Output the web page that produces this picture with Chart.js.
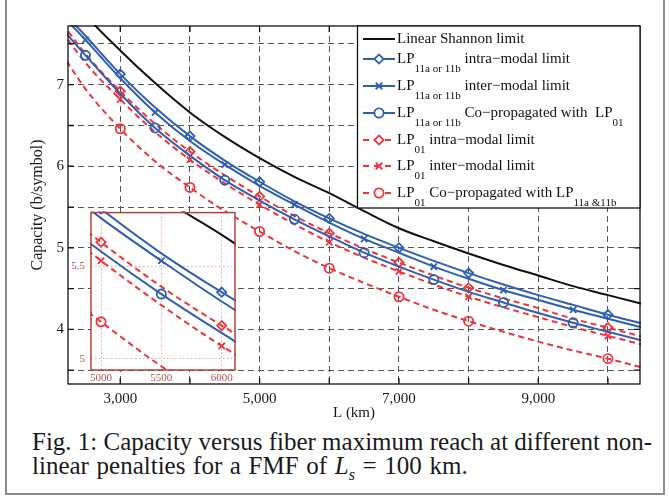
<!DOCTYPE html>
<html>
<head>
<meta charset="utf-8">
<script src="https://cdn.jsdelivr.net/npm/chart.js@4.4.1/dist/chart.umd.min.js"></script>
<style>
  html, body { margin: 0; padding: 0; background: #fff; }
  body { width: 669px; height: 497px; position: relative; overflow: hidden; }
  #frame { position: absolute; left: 5px; top: -4px; width: 660px; height: 499px; border: 2px solid #8c8c8c; box-sizing: border-box; }
  #mainWrap { position: absolute; left: 0; top: 0; width: 669px; height: 425px; }
  #insetWrap { position: absolute; left: 60px; top: 200px; width: 190px; height: 190px; }
  #caption { position: absolute; left: 32px; top: 430px; width: 620px; font-family: 'Liberation Serif', 'Times New Roman', serif; font-size: 25px; line-height: 24px; color: #1a1a1a; }
  #caption .l1 { text-align: justify; text-align-last: justify; word-spacing: -1.5px; white-space: nowrap; }
  #caption .l2 { word-spacing: 1.4px; }
  #caption sub { font-size: 16px; line-height: 0; }
</style>
</head>
<body>
<div id="frame"></div>
<div id="mainWrap"><canvas id="mainChart"></canvas></div>
<div id="insetWrap"><canvas id="insetChart"></canvas></div>
<div id="caption">
  <div class="l1">Fig. 1: Capacity versus fiber maximum reach at different non-</div>
  <div class="l2">linear penalties for a FMF of <i>L</i><sub><i>s</i></sub> = 100 km.</div>
</div>
<script>
// fiber length (km) and capacity (b/symbol)
const distanceKm = [2000, 2500, 3000, 3500, 4000, 4500, 5000, 5500, 6000, 6500, 7000, 7500, 8000, 8500, 9000, 9500, 10000, 10500];
const shannonLimit = [8.45, 7.86, 7.42, 7.02, 6.66, 6.36, 6.10, 5.87, 5.67, 5.45, 5.24, 5.08, 4.93, 4.79, 4.66, 4.53, 4.42, 4.31];
const lp11Intra    = [8.05, 7.60, 7.13, 6.72, 6.37, 6.07, 5.81, 5.57, 5.36, 5.17, 5.00, 4.84, 4.69, 4.55, 4.42, 4.30, 4.18, 4.07];
const lp11Inter    = [8.00, 7.55, 7.08, 6.66, 6.31, 6.02, 5.76, 5.53, 5.31, 5.11, 4.94, 4.77, 4.62, 4.48, 4.36, 4.24, 4.13, 4.02];
const lp11CoProp   = [7.85, 7.36, 6.89, 6.47, 6.13, 5.83, 5.58, 5.35, 5.14, 4.94, 4.77, 4.61, 4.46, 4.33, 4.20, 4.08, 3.97, 3.86];
const lp01Intra    = [7.95, 7.38, 6.92, 6.52, 6.18, 5.89, 5.63, 5.39, 5.18, 4.99, 4.82, 4.66, 4.51, 4.38, 4.26, 4.13, 4.02, 3.91];
const lp01Inter    = [7.85, 7.27, 6.82, 6.42, 6.08, 5.79, 5.53, 5.29, 5.07, 4.88, 4.71, 4.55, 4.40, 4.27, 4.15, 4.03, 3.92, 3.81];
const lp01CoProp   = [7.60, 6.95, 6.46, 6.06, 5.74, 5.45, 5.20, 4.96, 4.75, 4.57, 4.40, 4.24, 4.10, 3.97, 3.85, 3.74, 3.64, 3.53];

// where the markers sit on each curve
const marksThousands = [3000, 4000, 5000, 6000, 7000, 8000, 10000];
const marksHalves = [2500, 3500, 4500, 5500, 6500, 7500, 8500, 9500];

// ticks
const xTickValues = [3000, 4000, 5000, 6000, 7000, 8000, 9000, 10000];
const xTickLabels = [3000, 5000, 7000, 9000];
const yTickValues = [3.5, 4, 4.5, 5, 5.5, 6, 6.5, 7, 7.5];
const yTickLabels = [4, 5, 6, 7];
const insetXTicks = [5000, 5500, 6000];
const insetYTicks = [5, 5.5];

// legend texts, with subscripts
const legendTexts = [
    [['Linear Shannon limit']],
    [['LP'], ['11a or 11b', 1], [' intra\u2212modal limit']],
    [['LP'], ['11a or 11b', 1], [' inter\u2212modal limit']],
    [['LP'], ['11a or 11b', 1], [' Co\u2212propagated with  LP'], ['01', 1]],
    [['LP'], ['01', 1], [' intra\u2212modal limit']],
    [['LP'], ['01', 1], [' inter\u2212modal limit']],
    [['LP'], ['01', 1], [' Co\u2212propagated with LP'], ['11a &11b', 1]]
];

const BLUE = '#2f5fb3';
const RED = '#f0333b';
const BLACK = '#111111';
const SERIF = "'Liberation Serif', 'Times New Roman', serif";

Chart.defaults.font.family = SERIF;
Chart.defaults.color = '#1a1a1a';

function makeSeries(label, values, color, dashed, marker, markAt) {
    return {
        label: label,
        data: distanceKm.map((x, i) => ({ x: x, y: values[i] })),
        borderColor: color,
        borderWidth: 2,
        borderDash: dashed ? [6, 4] : [],
        cubicInterpolationMode: 'monotone',
        pointStyle: marker || 'circle',
        pointBorderColor: color,
        pointBackgroundColor: 'rgba(0,0,0,0)',
        pointBorderWidth: 1.8,
        pointRadius: ctx => (markAt && markAt.includes(distanceKm[ctx.dataIndex])) ? (marker === 'crossRot' ? 4.5 : 4.6) : 0,
        fill: false,
        clip: 1
    };
}

function buildDatasets() {
    return [
        makeSeries('Linear Shannon limit', shannonLimit, BLACK, false, null, null),
        makeSeries('LP11 intra-modal limit', lp11Intra, BLUE, false, 'rectRot', marksThousands),
        makeSeries('LP11 inter-modal limit', lp11Inter, BLUE, false, 'crossRot', marksHalves),
        makeSeries('LP11 co-propagated', lp11CoProp, BLUE, false, 'circle', marksHalves),
        makeSeries('LP01 intra-modal limit', lp01Intra, RED, true, 'rectRot', marksThousands),
        makeSeries('LP01 inter-modal limit', lp01Inter, RED, true, 'crossRot', marksThousands),
        makeSeries('LP01 co-propagated', lp01CoProp, RED, true, 'circle', marksThousands)
    ];
}

// frame + inner tick marks for the main axes
const boxPlugin = {
    id: 'boxPlugin',
    afterDatasetsDraw(chart) {
        const { ctx, chartArea: a, scales } = chart;
        ctx.save();
        ctx.strokeStyle = '#111';
        ctx.lineWidth = 1.3;
        ctx.setLineDash([]);
        ctx.beginPath();
        xTickValues.forEach(v => {
            const px = scales.x.getPixelForValue(v);
            ctx.moveTo(px, a.bottom); ctx.lineTo(px, a.bottom - 6);
            ctx.moveTo(px, a.top); ctx.lineTo(px, a.top + 6);
        });
        yTickValues.forEach(v => {
            const py = scales.y.getPixelForValue(v);
            ctx.moveTo(a.left, py); ctx.lineTo(a.left + 6, py);
            ctx.moveTo(a.right, py); ctx.lineTo(a.right - 6, py);
        });
        ctx.stroke();
        ctx.strokeRect(a.left, a.top, a.right - a.left, a.bottom - a.top);
        ctx.restore();
    }
};

// legend box drawn by hand because of the subscripts
const legendPlugin = {
    id: 'legendPlugin',
    afterDraw(chart) {
        const ctx = chart.ctx;
        const a = chart.chartArea;
        const box = { left: 357.5, top: a.top, right: a.right, bottom: 208 };
        const rowY = [39, 59, 86, 113, 140, 166, 193];
        ctx.save();
        ctx.fillStyle = '#fff';
        ctx.fillRect(box.left, box.top, box.right - box.left, box.bottom - box.top);
        ctx.strokeStyle = '#111';
        ctx.lineWidth = 1.3;
        ctx.strokeRect(box.left, box.top, box.right - box.left, box.bottom - box.top);

        chart.data.datasets.forEach((ds, i) => {
            const y = rowY[i];
            ctx.save();
            ctx.strokeStyle = ds.borderColor;
            ctx.lineWidth = 2;
            ctx.setLineDash(ds.borderDash.length ? [6, 5] : []);
            ctx.beginPath();
            ctx.moveTo(363, y);
            ctx.lineTo(395, y);
            ctx.stroke();
            ctx.restore();
            if (i > 0) {
                ctx.save();
                ctx.strokeStyle = ds.borderColor;
                ctx.fillStyle = '#fff';
                ctx.lineWidth = 1.8;
                Chart.helpers.drawPoint(ctx, { pointStyle: ds.pointStyle, radius: 4.6, borderWidth: 1.8, rotation: 0 }, 379, y);
                ctx.restore();
            }
            // text
            let x = 397;
            const base = y + 4;
            ctx.fillStyle = '#111';
            ctx.textBaseline = 'alphabetic';
            ctx.textAlign = 'left';
            legendTexts[i].forEach(part => {
                const sub = part[1];
                ctx.font = (sub ? '11px ' : '15px ') + SERIF;
                ctx.fillText(part[0], x, sub ? base + 9 : base);
                x += ctx.measureText(part[0]).width;
            });
        });
        ctx.restore();
    }
};

const mainChart = new Chart(document.getElementById('mainChart').getContext('2d'), {
    type: 'line',
    data: { datasets: buildDatasets() },
    options: {
        responsive: true,
        maintainAspectRatio: false,
        animation: false,
        events: [],
        layout: { padding: { top: 26, right: 29, left: 0, bottom: 0 } },
        plugins: { legend: { display: false }, tooltip: { enabled: false } },
        scales: {
            x: {
                type: 'linear',
                min: 2250,
                max: 10460,
                afterBuildTicks: s => { s.ticks = xTickValues.map(v => ({ value: v })); },
                afterFit: s => { s.height = 41; },
                grid: { color: '#555', lineWidth: 1, drawTicks: false },
                border: { display: false, dash: [6, 4] },
                ticks: {
                    padding: 6,
                    maxRotation: 0,
                    autoSkip: false,
                    font: { size: 15 },
                    callback: v => xTickLabels.includes(v) ? v.toLocaleString('en-US') : ''
                },
                title: { display: true, text: 'L (km)', font: { size: 15 }, padding: { top: 0, bottom: 3 } }
            },
            y: {
                type: 'linear',
                min: 3.33,
                max: 7.72,
                afterBuildTicks: s => { s.ticks = yTickValues.map(v => ({ value: v })); },
                afterFit: s => { s.width = 68; },
                grid: { color: '#555', lineWidth: 1, drawTicks: false },
                border: { display: false, dash: [6, 4] },
                ticks: {
                    padding: 4,
                    autoSkip: false,
                    font: { size: 15 },
                    callback: v => yTickLabels.includes(v) ? String(v) : ''
                },
                title: { display: true, text: 'Capacity (b/symbol)', font: { size: 16 }, padding: { top: 28, bottom: 0 } }
            }
        }
    },
    plugins: [boxPlugin, legendPlugin]
});

// zoomed inset around 5000-6000 km
const INSET_FRAME = '#b2403b';
const INSET_TEXT = '#b9514b';
const insetPlugin = {
    id: 'insetPlugin',
    beforeDraw(chart) {
        const { ctx, chartArea: a } = chart;
        ctx.save();
        ctx.fillStyle = '#fff';
        ctx.fillRect(a.left, a.top, a.right - a.left, a.bottom - a.top);
        ctx.restore();
    },
    afterDatasetsDraw(chart) {
        const { ctx, chartArea: a } = chart;
        ctx.save();
        ctx.strokeStyle = INSET_FRAME;
        ctx.lineWidth = 1.5;
        ctx.strokeRect(a.left, a.top, a.right - a.left, a.bottom - a.top);
        ctx.restore();
    }
};

const insetChart = new Chart(document.getElementById('insetChart').getContext('2d'), {
    type: 'line',
    data: { datasets: buildDatasets() },
    options: {
        responsive: true,
        maintainAspectRatio: false,
        animation: false,
        events: [],
        layout: { padding: { top: 7, right: 15, left: 0, bottom: 0 } },
        plugins: { legend: { display: false }, tooltip: { enabled: false } },
        scales: {
            x: {
                type: 'linear',
                min: 4917,
                max: 6110,
                afterBuildTicks: s => { s.ticks = insetXTicks.map(v => ({ value: v })); },
                afterFit: s => { s.height = 20; },
                grid: { color: '#eaa3a3', lineWidth: 1, drawTicks: false },
                border: { display: false, dash: [1.5, 2.5] },
                ticks: { padding: 2, maxRotation: 0, autoSkip: false, font: { size: 11 }, color: INSET_TEXT, callback: v => String(v) }
            },
            y: {
                type: 'linear',
                min: 4.94,
                max: 5.79,
                afterBuildTicks: s => { s.ticks = insetYTicks.map(v => ({ value: v })); },
                afterFit: s => { s.width = 31; },
                grid: { color: '#eaa3a3', lineWidth: 1, drawTicks: false },
                border: { display: false, dash: [1.5, 2.5] },
                ticks: { padding: 6, autoSkip: false, font: { size: 11 }, color: INSET_TEXT, callback: v => String(v) }
            }
        }
    },
    plugins: [insetPlugin]
});
</script>
</body>
</html>
